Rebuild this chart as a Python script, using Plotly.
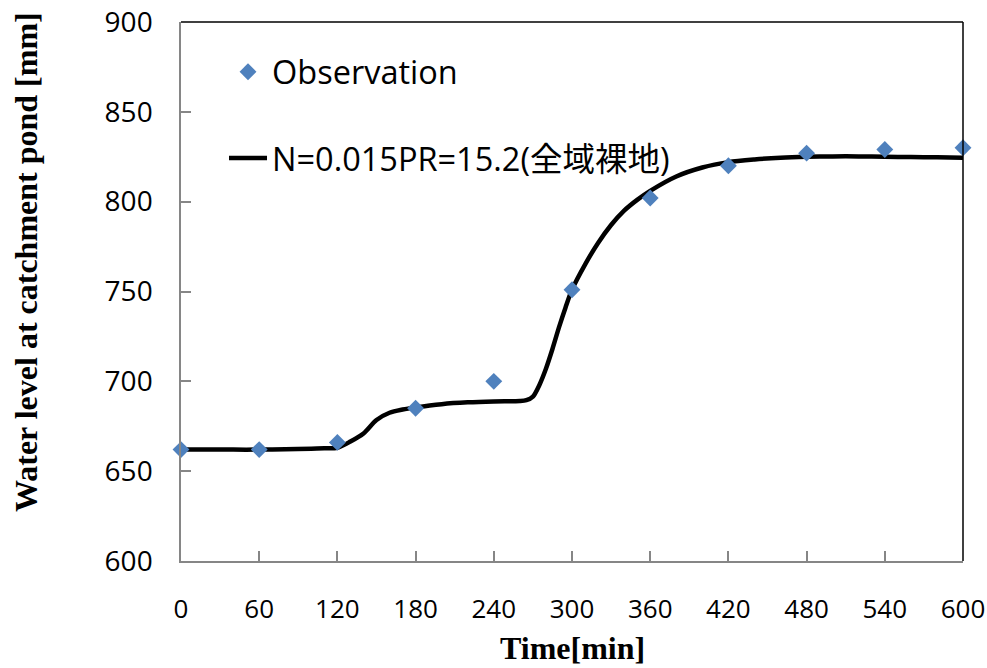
import plotly.graph_objects as go

obs_t = [0, 60, 120, 180, 240, 300, 360, 420, 480, 540, 600]
obs_v = [662, 662, 666, 685, 700, 751, 802, 820, 827, 829, 830]

sim_t = [0, 20, 40, 60, 80, 100, 110, 120, 130, 140, 150, 160, 170, 180, 200, 220, 240, 260,
         265, 270, 275, 280, 285, 290, 295, 300, 310, 320, 330, 340, 350, 360, 380, 400, 420,
         440, 460, 480, 500, 520, 540, 560, 580, 600]
sim_v = [662, 662, 662, 662, 662.2, 662.5, 662.7, 663, 666.5, 671, 678.5, 682.5, 684.3, 685.5,
         687.3, 688.3, 688.8, 689, 689.5, 691.5, 698, 707, 718, 730, 741, 751, 765, 777, 787,
         795, 801, 806, 814, 819, 822, 823.5, 824.5, 825, 825.2, 825.2, 825, 824.8, 824.7, 824.5]

x_ticks = [0, 60, 120, 180, 240, 300, 360, 420, 480, 540, 600]
y_ticks = [600, 650, 700, 750, 800, 850, 900]

fig = go.Figure()
fig.add_trace(go.Scatter(x=sim_t, y=sim_v, mode="lines", name="N=0.015PR=15.2(全域裸地)",
                         legendgroup="b", legendrank=2,
                         line=dict(color="black", width=4.5, shape="spline", smoothing=0.8)))
fig.add_trace(go.Scatter(x=obs_t, y=obs_v, mode="markers", name="Observation",
                         legendgroup="a", legendrank=1,
                         marker=dict(symbol="diamond", size=13, color="#4F81BD"),
                         cliponaxis=False))

axis_common = dict(showgrid=False, zeroline=False, showline=True, linecolor="#868686",
                   linewidth=1.5, ticks="inside", ticklen=10, tickcolor="#868686",
                   tickwidth=1.5, automargin=False)
fig.update_xaxes(range=[0, 600], tickvals=x_ticks, ticktext=[str(v) for v in x_ticks],
                 ticklabelstandoff=24,
                 tickfont=dict(family="Open Sans", size=26, color="black"), **axis_common)
fig.update_yaxes(range=[600, 900], tickvals=y_ticks, ticktext=[str(v) for v in y_ticks],
                 ticklabelstandoff=21,
                 tickfont=dict(family="Open Sans", size=28, color="black"), **axis_common)

fig.add_shape(type="line", xref="paper", yref="paper", x0=0, x1=1, y0=1, y1=1,
              line=dict(color="black", width=1.5))
fig.add_shape(type="line", xref="paper", yref="paper", x0=1, x1=1, y0=0, y1=1,
              line=dict(color="black", width=1.5))

fig.add_annotation(text="<b>Time[min]</b>", xref="paper", yref="paper", x=(572 - 181) / 782,
                   y=(561 - 648) / 539, showarrow=False, xanchor="center", yanchor="middle",
                   font=dict(family="Liberation Serif", size=32, color="black"))
fig.add_annotation(text="<b>Water level at catchment pond [mm]</b>", xref="paper", yref="paper",
                   x=(26 - 181) / 782, y=(561 - 262) / 539, showarrow=False, textangle=-90,
                   xanchor="center", yanchor="middle",
                   font=dict(family="Liberation Serif", size=32, color="black"))

fig.update_layout(
    width=987, height=668,
    margin=dict(l=181, r=24, t=22, b=107, autoexpand=False),
    paper_bgcolor="white", plot_bgcolor="white",
    legend=dict(x=0.055, y=0.959, xanchor="left", yanchor="top", traceorder="grouped",
                tracegroupgap=41, bgcolor="rgba(0,0,0,0)", itemwidth=38,
                font=dict(family="Open Sans, Noto Sans CJK JP", size=32.5, color="black")),
)

fig.write_html("out.html")
